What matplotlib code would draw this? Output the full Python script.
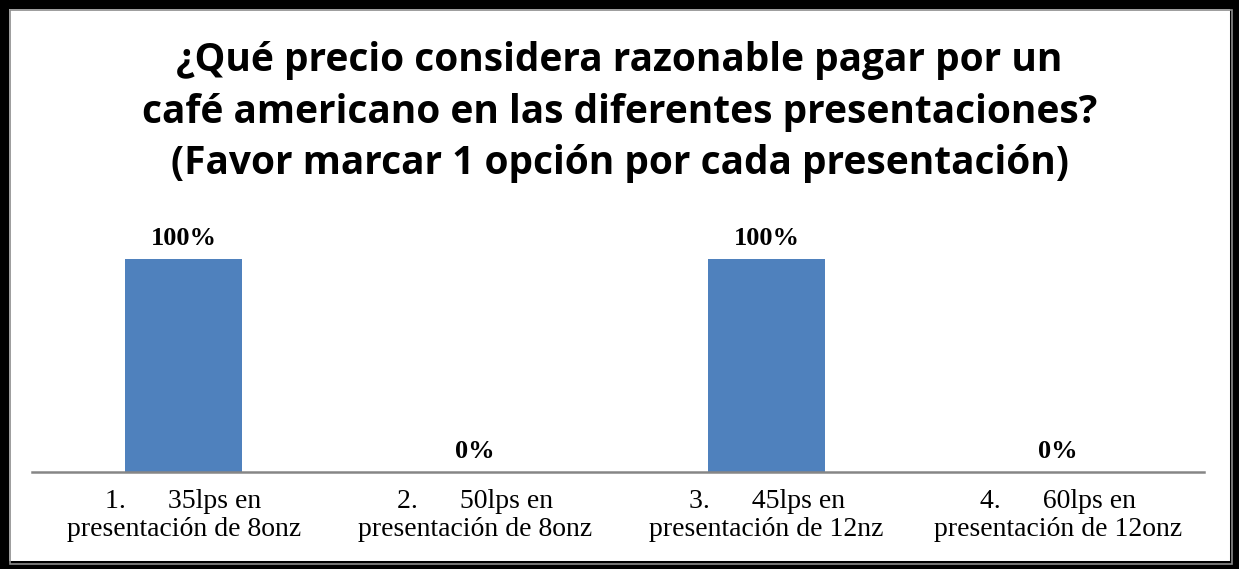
import matplotlib.pyplot as plt
from matplotlib.patches import Rectangle

# datos de la encuesta
categorias = ["1.      35lps en\npresentación de 8onz",
              "2.      50lps en\npresentación de 8onz",
              "3.      45lps en\npresentación de 12nz",
              "4.      60lps en\npresentación de 12onz"]
porcentajes = [100, 0, 100, 0]

titulo = ("¿Qué precio considera razonable pagar por un\n"
          "café americano en las diferentes presentaciones?\n"
          "(Favor marcar 1 opción por cada presentación)")

W, H = 1239, 569
fig = plt.figure(figsize=(W / 100, H / 100), dpi=100)
fig.patch.set_facecolor("white")

# marco negro grueso y linea gris interior
fig.patches.append(Rectangle((4 / W, 4 / H), 1 - 9 / W, 1 - 8 / H, transform=fig.transFigure,
                             fill=False, edgecolor="black", linewidth=6.5))
fig.patches.append(Rectangle((9.5 / W, 5.5 / H), 1 - 17 / W, 1 - 15.5 / H, transform=fig.transFigure,
                             fill=False, edgecolor="#8c8c8c", linewidth=1.2))

# area del grafico: x 32..1204, y 225..472 (px desde arriba)
left, right, top, bottom = 32, 1204, 225, 472
ax = fig.add_axes([left / W, 1 - bottom / H, (right - left) / W, (bottom - top) / H])

x = range(len(categorias))
ax.bar(x, porcentajes, width=0.4, color="#4F81BD")
ax.set_xlim(-0.52, len(categorias) - 0.5)
ax.set_ylim(0, 100 * (bottom - top) / (bottom - 259))

for i, v in enumerate(porcentajes):
    ax.text(i, v + 4, f"{v}%", ha="center", va="bottom", fontsize=19, fontweight="bold",
            family="Liberation Serif")

ax.set_yticks([])
ax.set_xticks(list(x))
ax.set_xticklabels(categorias, fontsize=20, family="Liberation Serif", linespacing=1.2)
ax.tick_params(axis="x", length=0, pad=12)
for s in ["top", "right", "left"]:
    ax.spines[s].set_visible(False)
ax.spines["bottom"].set_color("#868686")
ax.spines["bottom"].set_linewidth(1.8)

fig.text(0.5, 1 - 112 / H, titulo, ha="center", va="center", fontsize=28, fontweight="bold",
         family="Open Sans", linespacing=1.42)

fig.savefig("out.png", dpi=100)
